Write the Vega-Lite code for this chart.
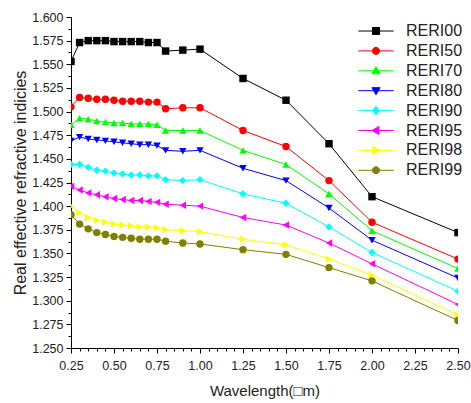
{
  "$schema": "https://vega.github.io/schema/vega-lite/v6.json",
  "autosize": "none",
  "width": 387,
  "height": 331,
  "padding": {"left": 71, "top": 17, "right": 13, "bottom": 55},
  "background": "white",
  "config": {"view": {"stroke": null}, "font": "Liberation Sans"},
  "data": {"values": [
    {"s":"RERI00","x":0.25,"y":1.553},{"s":"RERI00","x":0.3,"y":1.573},{"s":"RERI00","x":0.35,"y":1.575},{"s":"RERI00","x":0.4,"y":1.575},{"s":"RERI00","x":0.45,"y":1.575},{"s":"RERI00","x":0.5,"y":1.574},{"s":"RERI00","x":0.55,"y":1.574},{"s":"RERI00","x":0.6,"y":1.574},{"s":"RERI00","x":0.65,"y":1.574},{"s":"RERI00","x":0.7,"y":1.573},{"s":"RERI00","x":0.75,"y":1.573},{"s":"RERI00","x":0.8,"y":1.564},{"s":"RERI00","x":0.9,"y":1.565},{"s":"RERI00","x":1.0,"y":1.566},{"s":"RERI00","x":1.25,"y":1.535},{"s":"RERI00","x":1.5,"y":1.512},{"s":"RERI00","x":1.75,"y":1.466},{"s":"RERI00","x":2.0,"y":1.41},{"s":"RERI00","x":2.5,"y":1.372},
    {"s":"RERI50","x":0.25,"y":1.505},{"s":"RERI50","x":0.3,"y":1.515},{"s":"RERI50","x":0.35,"y":1.514},{"s":"RERI50","x":0.4,"y":1.513},{"s":"RERI50","x":0.45,"y":1.513},{"s":"RERI50","x":0.5,"y":1.512},{"s":"RERI50","x":0.55,"y":1.511},{"s":"RERI50","x":0.6,"y":1.511},{"s":"RERI50","x":0.65,"y":1.511},{"s":"RERI50","x":0.7,"y":1.51},{"s":"RERI50","x":0.75,"y":1.51},{"s":"RERI50","x":0.8,"y":1.503},{"s":"RERI50","x":0.9,"y":1.504},{"s":"RERI50","x":1.0,"y":1.504},{"s":"RERI50","x":1.25,"y":1.48},{"s":"RERI50","x":1.5,"y":1.463},{"s":"RERI50","x":1.75,"y":1.427},{"s":"RERI50","x":2.0,"y":1.383},{"s":"RERI50","x":2.5,"y":1.344},
    {"s":"RERI70","x":0.25,"y":1.486},{"s":"RERI70","x":0.3,"y":1.493},{"s":"RERI70","x":0.35,"y":1.492},{"s":"RERI70","x":0.4,"y":1.49},{"s":"RERI70","x":0.45,"y":1.489},{"s":"RERI70","x":0.5,"y":1.488},{"s":"RERI70","x":0.55,"y":1.488},{"s":"RERI70","x":0.6,"y":1.487},{"s":"RERI70","x":0.65,"y":1.487},{"s":"RERI70","x":0.7,"y":1.487},{"s":"RERI70","x":0.75,"y":1.486},{"s":"RERI70","x":0.8,"y":1.48},{"s":"RERI70","x":0.9,"y":1.48},{"s":"RERI70","x":1.0,"y":1.48},{"s":"RERI70","x":1.25,"y":1.459},{"s":"RERI70","x":1.5,"y":1.444},{"s":"RERI70","x":1.75,"y":1.413},{"s":"RERI70","x":2.0,"y":1.374},{"s":"RERI70","x":2.5,"y":1.334},
    {"s":"RERI80","x":0.25,"y":1.469},{"s":"RERI80","x":0.3,"y":1.473},{"s":"RERI80","x":0.35,"y":1.471},{"s":"RERI80","x":0.4,"y":1.47},{"s":"RERI80","x":0.45,"y":1.469},{"s":"RERI80","x":0.5,"y":1.468},{"s":"RERI80","x":0.55,"y":1.467},{"s":"RERI80","x":0.6,"y":1.466},{"s":"RERI80","x":0.65,"y":1.465},{"s":"RERI80","x":0.7,"y":1.465},{"s":"RERI80","x":0.75,"y":1.464},{"s":"RERI80","x":0.8,"y":1.459},{"s":"RERI80","x":0.9,"y":1.458},{"s":"RERI80","x":1.0,"y":1.459},{"s":"RERI80","x":1.25,"y":1.44},{"s":"RERI80","x":1.5,"y":1.427},{"s":"RERI80","x":1.75,"y":1.398},{"s":"RERI80","x":2.0,"y":1.364},{"s":"RERI80","x":2.5,"y":1.324},
    {"s":"RERI90","x":0.25,"y":1.444},{"s":"RERI90","x":0.3,"y":1.444},{"s":"RERI90","x":0.35,"y":1.441},{"s":"RERI90","x":0.4,"y":1.438},{"s":"RERI90","x":0.45,"y":1.437},{"s":"RERI90","x":0.5,"y":1.435},{"s":"RERI90","x":0.55,"y":1.434},{"s":"RERI90","x":0.6,"y":1.433},{"s":"RERI90","x":0.65,"y":1.433},{"s":"RERI90","x":0.7,"y":1.432},{"s":"RERI90","x":0.75,"y":1.432},{"s":"RERI90","x":0.8,"y":1.428},{"s":"RERI90","x":0.9,"y":1.427},{"s":"RERI90","x":1.0,"y":1.428},{"s":"RERI90","x":1.25,"y":1.413},{"s":"RERI90","x":1.5,"y":1.403},{"s":"RERI90","x":1.75,"y":1.378},{"s":"RERI90","x":2.0,"y":1.351},{"s":"RERI90","x":2.5,"y":1.31},
    {"s":"RERI95","x":0.25,"y":1.421},{"s":"RERI95","x":0.3,"y":1.417},{"s":"RERI95","x":0.35,"y":1.414},{"s":"RERI95","x":0.4,"y":1.412},{"s":"RERI95","x":0.45,"y":1.41},{"s":"RERI95","x":0.5,"y":1.408},{"s":"RERI95","x":0.55,"y":1.407},{"s":"RERI95","x":0.6,"y":1.406},{"s":"RERI95","x":0.65,"y":1.406},{"s":"RERI95","x":0.7,"y":1.405},{"s":"RERI95","x":0.75,"y":1.404},{"s":"RERI95","x":0.8,"y":1.402},{"s":"RERI95","x":0.9,"y":1.401},{"s":"RERI95","x":1.0,"y":1.4},{"s":"RERI95","x":1.25,"y":1.388},{"s":"RERI95","x":1.5,"y":1.38},{"s":"RERI95","x":1.75,"y":1.361},{"s":"RERI95","x":2.0,"y":1.339},{"s":"RERI95","x":2.5,"y":1.296},
    {"s":"RERI98","x":0.25,"y":1.4},{"s":"RERI98","x":0.3,"y":1.393},{"s":"RERI98","x":0.35,"y":1.388},{"s":"RERI98","x":0.4,"y":1.385},{"s":"RERI98","x":0.45,"y":1.383},{"s":"RERI98","x":0.5,"y":1.381},{"s":"RERI98","x":0.55,"y":1.38},{"s":"RERI98","x":0.6,"y":1.379},{"s":"RERI98","x":0.65,"y":1.378},{"s":"RERI98","x":0.7,"y":1.378},{"s":"RERI98","x":0.75,"y":1.377},{"s":"RERI98","x":0.8,"y":1.375},{"s":"RERI98","x":0.9,"y":1.374},{"s":"RERI98","x":1.0,"y":1.373},{"s":"RERI98","x":1.25,"y":1.365},{"s":"RERI98","x":1.5,"y":1.359},{"s":"RERI98","x":1.75,"y":1.344},{"s":"RERI98","x":2.0,"y":1.327},{"s":"RERI98","x":2.5,"y":1.285},
    {"s":"RERI99","x":0.25,"y":1.391},{"s":"RERI99","x":0.3,"y":1.381},{"s":"RERI99","x":0.35,"y":1.376},{"s":"RERI99","x":0.4,"y":1.372},{"s":"RERI99","x":0.45,"y":1.37},{"s":"RERI99","x":0.5,"y":1.368},{"s":"RERI99","x":0.55,"y":1.367},{"s":"RERI99","x":0.6,"y":1.366},{"s":"RERI99","x":0.65,"y":1.365},{"s":"RERI99","x":0.7,"y":1.365},{"s":"RERI99","x":0.75,"y":1.365},{"s":"RERI99","x":0.8,"y":1.363},{"s":"RERI99","x":0.9,"y":1.361},{"s":"RERI99","x":1.0,"y":1.36},{"s":"RERI99","x":1.25,"y":1.354},{"s":"RERI99","x":1.5,"y":1.349},{"s":"RERI99","x":1.75,"y":1.335},{"s":"RERI99","x":2.0,"y":1.321},{"s":"RERI99","x":2.5,"y":1.279}
  ]},
  "encoding": {
    "x": {"field": "x", "type": "quantitative",
      "scale": {"domain": [0.25, 2.5], "nice": false, "zero": false},
      "axis": {"title": "Wavelength(\u25a1m)",
        "values": [0.25,0.3,0.35,0.4,0.45,0.5,0.55,0.6,0.65,0.7,0.75,0.8,0.85,0.9,0.95,1.0,1.05,1.1,1.15,1.2,1.25,1.3,1.35,1.4,1.45,1.5,1.55,1.6,1.65,1.7,1.75,1.8,1.85,1.9,1.95,2.0,2.05,2.1,2.15,2.2,2.25,2.3,2.35,2.4,2.45,2.5],
        "labelExpr": "abs(datum.value*4-round(datum.value*4))<0.01 ? format(datum.value,'.2f') : ''",
        "tickSize": {"condition": {"test": "abs(datum.value*4-round(datum.value*4))<0.01", "value": 5}, "value": 3},
        "grid": false, "domainColor": "black", "tickColor": "black", "labelColor": "#222222", "titleColor": "#222222",
        "labelFontSize": 12.5, "labelPadding": 6, "labelFlush": false, "labelOverlap": false,
        "titleFontSize": 15, "titleFontWeight": "normal", "titlePadding": 12}},
    "y": {"field": "y", "type": "quantitative",
      "scale": {"domain": [1.25, 1.6], "nice": false, "zero": false},
      "axis": {"title": "Real effective refractive indicies",
        "values": [1.25,1.2625,1.275,1.2875,1.3,1.3125,1.325,1.3375,1.35,1.3625,1.375,1.3875,1.4,1.4125,1.425,1.4375,1.45,1.4625,1.475,1.4875,1.5,1.5125,1.525,1.5375,1.55,1.5625,1.575,1.5875,1.6],
        "labelExpr": "abs(datum.value*40-round(datum.value*40))<0.01 ? format(datum.value,'.3f') : ''",
        "tickSize": {"condition": {"test": "abs(datum.value*40-round(datum.value*40))<0.01", "value": 5}, "value": 3},
        "grid": false, "domainColor": "black", "tickColor": "black", "labelColor": "#222222", "titleColor": "#222222",
        "labelFontSize": 12.5, "labelPadding": 3, "labelFlush": false, "labelOverlap": false,
        "titleFontSize": 16, "titleFontWeight": "normal", "titlePadding": 3}}
  },
  "layer": [
    {
      "mark": {"type": "line", "strokeWidth": 1, "clip": true},
      "encoding": {
        "color": {"field": "s", "type": "nominal",
          "scale": {"domain": ["RERI00","RERI50","RERI70","RERI80","RERI90","RERI95","RERI98","RERI99"],
                    "range": ["#000000","#ff0000","#00ff00","#0000ff","#00ffff","#ff00ff","#ffff00","#808000"]},
          "legend": null}
      }
    },
    {
      "mark": {"type": "point", "filled": true, "size": 55, "opacity": 1, "clip": true},
      "encoding": {
        "color": {"field": "s", "type": "nominal", "legend": null},
        "shape": {"field": "s", "type": "nominal", "legend": null,
          "scale": {"domain": ["RERI00","RERI50","RERI70","RERI80","RERI90","RERI95","RERI98","RERI99"],
                    "range": ["square","circle","triangle-up","triangle-down","diamond","triangle-left","triangle-right","circle"]}}
      }
    },
    {
      "mark": {"type": "point", "filled": true, "size": 50, "opacity": 0, "clip": true},
      "encoding": {
        "color": {"field": "s", "type": "nominal", "legend": null},
        "shape": {"field": "s", "type": "nominal",
          "scale": {"domain": ["RERI00","RERI50","RERI70","RERI80","RERI90","RERI95","RERI98","RERI99"],
                    "range": ["M-5,0H5M-1,-1H1V1H-1Z","M-5,0H5M1,0A1,1 0 1,1 -1,0A1,1 0 1,1 1,0Z","M-5,0H5M0,-1.15L1.15,0.85H-1.15Z","M-5,0H5M0,1.15L1.15,-0.85H-1.15Z","M-5,0H5M0,-1.25L1,0L0,1.25L-1,0Z","M-5,0H5M-1.15,0L0.85,-1.15V1.15Z","M-5,0H5M1.15,0L-0.85,-1.15V1.15Z","M-5,0H5M1,0A1,1 0 1,1 -1,0A1,1 0 1,1 1,0Z"]},
          "legend": {"title": null, "orient": "none", "legendX": 297, "legendY": 6, "padding": 0,
            "symbolSize": 50, "symbolOpacity": 1, "symbolStrokeWidth": 1, "symbolFillColor": "black", "symbolStrokeColor": "black",
            "labelFontSize": 16, "labelColor": "#222222", "labelOffset": 22, "rowPadding": 3.9,
            "encode": {"symbols": {"update": {"fill": {"scale": "color", "field": "value"}, "stroke": {"scale": "color", "field": "value"}, "opacity": {"value": 1}}}}}}
      }
    }
  ],
  "resolve": {"scale": {"shape": "independent"}}
}
